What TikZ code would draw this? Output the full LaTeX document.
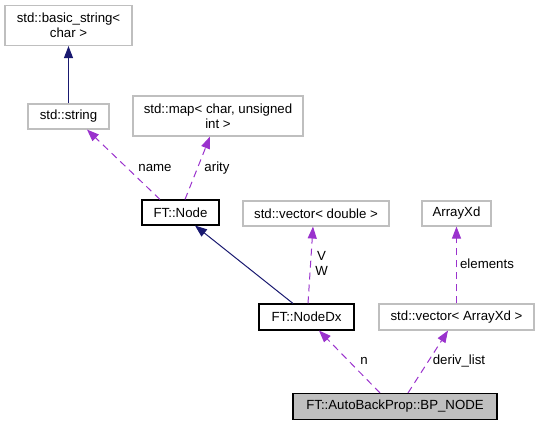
\documentclass[tikz,border=0pt]{standalone}
\usepackage{fontspec}
\setmainfont{Liberation Sans}
\usetikzlibrary{arrows.meta}
\definecolor{extgray}{HTML}{BFBFBF}
\definecolor{navyedge}{HTML}{191970}
\definecolor{purpedge}{HTML}{9A32CD}
\begin{document}
\begin{tikzpicture}[x=1bp,y=-1bp,
  every node/.style={font=\fontsize{13.3}{15}\selectfont, inner sep=0pt},
  extbox/.style={draw=extgray, line width=1.1bp, fill=white, align=center},
  clsbox/.style={draw=black, line width=1.1bp, fill=white, align=center},
  mainbox/.style={draw=black, line width=1.1bp, fill=extgray, align=center},
  inherit/.style={draw=navyedge, line width=1bp, -{Triangle[length=12bp,width=9bp]}},
  usage/.style={draw=purpedge, line width=1bp, dash pattern=on 7bp off 5bp, -{Triangle[length=12bp,width=9bp]}},
  elabel/.style={anchor=center, align=center}
]
\useasboundingbox (0,0) rectangle (539,425);
\node[extbox, minimum width=127bp, minimum height=40bp] (bs) at (68.5,25.5) {std::basic\_string<\\char >};
\node[extbox, minimum width=81bp, minimum height=25bp] (str) at (68.5,116.5) {std::string};
\node[extbox, minimum width=170bp, minimum height=40bp] (map) at (218,116) {std::map< char, unsigned\\int >};
\node[clsbox, minimum width=77bp, minimum height=25bp] (node) at (180.5,212.5) {FT::Node};
\node[extbox, minimum width=146bp, minimum height=25bp] (vd) at (316,213.5) {std::vector< double >};
\node[extbox, minimum width=69bp, minimum height=25bp] (axd) at (456.5,213.5) {ArrayXd};
\node[clsbox, minimum width=95bp, minimum height=26bp] (ndx) at (306.5,317) {FT::NodeDx};
\node[extbox, minimum width=155bp, minimum height=26bp] (vax) at (456.5,317) {std::vector< ArrayXd >};
\node[mainbox, minimum width=204bp, minimum height=26bp] (bp) at (395,406.5) {FT::AutoBackProp::BP\_NODE};

\draw[inherit] (str.north) -- (bs.south);
\draw[usage] ([xshift=-20.5bp]node.north) -- ([xshift=18.5bp]str.south);
\draw[usage] ([xshift=4.5bp]node.north) -- ([xshift=-8bp]map.south);
\draw[inherit] ([xshift=-13.5bp]ndx.north) -- ([xshift=14.5bp]node.south);
\draw[usage] ([xshift=1.5bp]ndx.north) -- ([xshift=-3bp]vd.south);
\draw[usage] (vax.north) -- (axd.south);
\draw[usage] ([xshift=-15bp]bp.north) -- ([xshift=12.5bp]ndx.south);
\draw[usage] ([xshift=13bp]bp.north) -- ([xshift=-8.5bp]vax.south);

\node[elabel] (lname) at (155,168) {name};
\node[elabel] (larity) at (217,168) {arity};
\node[elabel] (lvw) at (321.5,263.5) {V\\W};
\node[elabel] (lelem) at (487,264) {elements};
\node[elabel] (ln) at (364,361) {n};
\node[elabel] (lderiv) at (459,361) {deriv\_list};
\end{tikzpicture}
\end{document}
